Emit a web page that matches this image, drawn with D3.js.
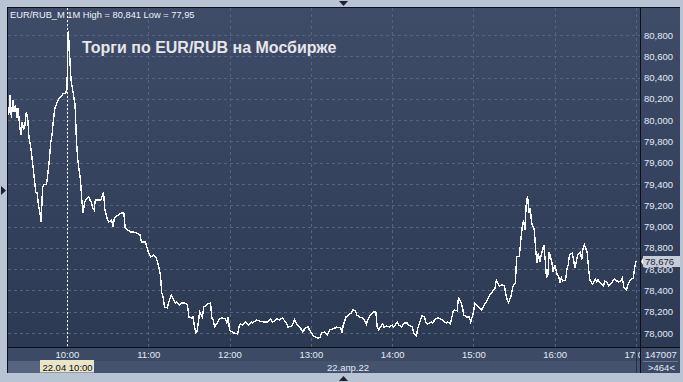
<!DOCTYPE html>
<html lang="ru">
<head>
<meta charset="UTF-8">
<title>EUR/RUB M1</title>
<script src="https://cdn.jsdelivr.net/npm/d3@7"></script>
<style>
  html, body { margin: 0; padding: 0; background: #b8c4d4; }
  svg { display: block; font-family: "Liberation Sans", Arial, sans-serif; }
</style>
</head>
<body>
<div id="chart"></div>
<script>
// minute bars, 22.04.2022 (close prices)
const times = [
  "09:17","09:18","09:19","09:20","09:21","09:22","09:23","09:24","09:25","09:26",
  "09:27","09:28","09:29","09:30","09:31","09:32","09:33","09:34","09:35","09:36",
  "09:37","09:38","09:39","09:40","09:41","09:42","09:43","09:45","09:46","09:47",
  "09:48","09:49","09:50","09:51","09:52","09:53","09:54","09:56","09:57","09:59",
  "10:00","10:01","10:02","10:03","10:04","10:06","10:07","10:08","10:10","10:11",
  "10:12","10:13","10:14","10:16","10:17","10:18","10:19","10:20","10:21","10:23",
  "10:25","10:27","10:28","10:30","10:31","10:33","10:34","10:35","10:38","10:40",
  "10:42","10:43","10:45","10:47","10:49","10:51","10:54","10:55","10:58","11:00",
  "11:01","11:02","11:04","11:06","11:08","11:09","11:10","11:11","11:12","11:14",
  "11:15","11:17","11:18","11:20","11:21","11:23","11:25","11:27","11:29","11:30",
  "11:32","11:33","11:35","11:36","11:37","11:38","11:40","11:41","11:43","11:44",
  "11:46","11:47","11:48","11:49","11:51","11:52","11:54","11:57","11:58","11:59",
  "12:00","12:02","12:03","12:06","12:07","12:08","12:10","12:12","12:14","12:16",
  "12:17","12:20","12:22","12:25","12:28","12:30","12:32","12:35","12:37","12:39",
  "12:42","12:43","12:46","12:48","12:50","12:52","12:54","12:56","12:58","12:59",
  "13:02","13:05","13:07","13:08","13:10","13:12","13:14","13:16","13:18","13:19",
  "13:22","13:23","13:24","13:26","13:27","13:30","13:31","13:33","13:34","13:36",
  "13:38","13:39","13:41","13:42","13:44","13:46","13:48","13:49","13:50","13:53",
  "13:54","13:56","13:58","14:00","14:01","14:04","14:05","14:07","14:09","14:11",
  "14:12","14:15","14:16","14:18","14:19","14:21","14:22","14:24","14:25","14:26",
  "14:29","14:30","14:32","14:34","14:36","14:38","14:40","14:41","14:43","14:45",
  "14:46","14:48","14:49","14:51","14:52","14:53","14:55","14:57","14:58","15:00",
  "15:01","15:03","15:04","15:06","15:08","15:09","15:10","15:12","15:14","15:16",
  "15:17","15:19","15:21","15:23","15:24","15:25","15:26","15:28","15:29","15:31",
  "15:32","15:34","15:35","15:36","15:37","15:38","15:39","15:40","15:41","15:42",
  "15:43","15:45","15:46","15:47","15:48","15:49","15:51","15:52","15:53","15:54",
  "15:55","15:56","15:58","15:59","16:00","16:02","16:03","16:04","16:05","16:06",
  "16:08","16:09","16:10","16:11","16:13","16:14","16:15","16:16","16:17","16:19",
  "16:20","16:21","16:22","16:24","16:25","16:26","16:28","16:29","16:30","16:31",
  "16:32","16:34","16:36","16:37","16:39","16:40","16:42","16:44","16:45","16:47",
  "16:49","16:50","16:51","16:53","16:54","16:56","16:58","16:59","17:00"
];
const prices = [
  80.049,80.237,80.021,80.190,80.077,80.143,80.021,80.115,79.955,79.861,
  79.983,79.908,79.955,80.077,80.021,79.833,79.767,79.673,79.560,79.438,
  79.325,79.316,79.203,79.137,79.043,79.363,79.391,79.400,79.504,79.626,
  79.786,79.861,80.002,80.105,80.143,80.171,80.199,80.227,80.246,80.256,
  80.284,80.841,80.613,80.378,80.303,80.143,79.814,79.626,79.438,79.250,
  79.128,79.222,79.250,79.278,79.250,79.231,79.175,79.156,79.250,79.250,
  79.250,79.325,79.156,79.062,79.043,79.062,78.996,79.081,79.109,79.128,
  79.128,78.987,78.968,78.949,78.949,78.940,78.921,78.855,78.855,78.761,
  78.733,78.714,78.733,78.705,78.611,78.545,78.376,78.338,78.244,78.235,
  78.282,78.357,78.329,78.282,78.291,78.263,78.282,78.282,78.263,78.150,
  78.141,78.150,78.000,78.009,78.103,78.197,78.150,78.244,78.263,78.273,
  78.282,78.141,78.122,78.056,78.094,78.122,78.141,78.132,78.094,78.150,
  78.028,78.009,78.000,77.991,78.056,78.085,78.075,78.103,78.075,78.103,
  78.094,78.122,78.113,78.103,78.103,78.132,78.103,78.132,78.122,78.141,
  78.094,78.056,78.066,78.122,78.075,78.056,78.009,78.047,78.056,78.028,
  77.972,77.950,77.962,78.000,78.009,77.981,78.028,78.038,78.047,78.056,
  78.047,78.009,78.075,78.150,78.160,78.188,78.216,78.207,78.169,78.150,
  78.141,78.132,78.085,78.122,78.169,78.197,78.197,78.056,78.028,78.085,
  78.056,78.066,78.056,78.075,78.056,78.103,78.075,78.056,78.094,78.094,
  78.075,78.056,78.000,77.972,78.047,78.122,78.160,78.150,78.094,78.085,
  78.103,78.094,78.132,78.141,78.132,78.113,78.094,78.103,78.085,78.197,
  78.216,78.207,78.329,78.282,78.235,78.169,78.150,78.150,78.103,78.188,
  78.282,78.254,78.244,78.216,78.263,78.282,78.301,78.357,78.385,78.423,
  78.498,78.442,78.451,78.442,78.357,78.310,78.282,78.357,78.432,78.470,
  78.714,78.724,78.874,78.987,79.062,78.968,79.203,79.288,79.128,79.175,
  79.034,78.968,78.780,78.658,78.752,78.667,78.780,78.827,78.686,78.517,
  78.545,78.761,78.658,78.573,78.639,78.545,78.526,78.479,78.517,78.489,
  78.498,78.592,78.639,78.733,78.752,78.686,78.611,78.667,78.733,78.761,
  78.686,78.799,78.827,78.761,78.611,78.498,78.461,78.479,78.508,78.479,
  78.498,78.470,78.442,78.489,78.470,78.442,78.470,78.508,78.498,78.479,
  78.489,78.517,78.432,78.404,78.451,78.498,78.517,78.611,78.676
];
const priceTicks = [78.0, 78.2, 78.4, 78.6, 78.8, 79.0, 79.2, 79.4, 79.6, 79.8, 80.0, 80.2, 80.4, 80.6, 80.8];
const hourTicks = ["10:00", "11:00", "12:00", "13:00", "14:00", "15:00", "16:00", "17:00"];
const viewFrom = "09:16:30", viewTo = "17:03:00";
const priceFrom = 77.868, priceTo = 81.054;
const day = "2022-04-22";
const symbol = "EUR/RUB_M 1M", high = 80.841, low = 77.95;
const cursorTime = "10:00";
const totalVolume = "147007", barCount = ">464<";

const W = 683, H = 382;
const pLeft = 8, pRight = 640, pTop = 8, pBottom = 347, panelRight = 680, panelBottom = 373;

const parse = d3.timeParse("%Y-%m-%d %H:%M:%S");
const at = t => parse(`${day} ${t.length === 5 ? t + ":00" : t}`);
const data = times.map((t, i) => ({ t: at(t), v: prices[i] }));

const ru = d3.formatLocale({ decimal: ",", thousands: " ", grouping: [3], currency: ["", ""] });
const fmt3 = ru.format(".3f"), fmt2 = ru.format(".2f");

const x = d3.scaleTime().domain([at(viewFrom), at(viewTo)]).range([pLeft, pRight]);
const y = d3.scaleLinear().domain([priceFrom, priceTo]).range([pBottom, pTop]);

const svg = d3.select("#chart").append("svg").attr("width", W).attr("height", H);

const defs = svg.append("defs");
const grad = defs.append("linearGradient").attr("id", "bg").attr("x1", 0).attr("y1", 0).attr("x2", 0).attr("y2", 1);
grad.append("stop").attr("offset", "0%").attr("stop-color", "#3f4c68");
grad.append("stop").attr("offset", "100%").attr("stop-color", "#2b3852");
defs.append("clipPath").attr("id", "plot").append("rect")
  .attr("x", pLeft).attr("y", pTop).attr("width", pRight - pLeft).attr("height", pBottom - pTop);
defs.append("clipPath").attr("id", "timeaxis").append("rect")
  .attr("x", pLeft).attr("y", pBottom).attr("width", pRight - pLeft).attr("height", panelBottom - pBottom);

// panels
svg.append("rect").attr("x", pLeft).attr("y", pTop).attr("width", panelRight - pLeft).attr("height", panelBottom - pTop).attr("fill", "url(#bg)");
svg.append("rect").attr("x", pLeft).attr("y", pBottom).attr("width", panelRight - pLeft).attr("height", panelBottom - pBottom).attr("fill", "#3d4a65");
svg.append("rect").attr("x", pLeft).attr("y", 361).attr("width", pRight - pLeft).attr("height", panelBottom - 361).attr("fill", "#44526d");
svg.append("rect").attr("x", pLeft).attr("y", 361).attr("width", 33).attr("height", panelBottom - 361).attr("fill", "#56647f");

// grid
const grid = svg.append("g").attr("stroke", "#56637e").attr("stroke-dasharray", "3,3").attr("shape-rendering", "crispEdges");
grid.selectAll(".h").data(priceTicks).join("line")
  .attr("x1", pLeft).attr("x2", pRight).attr("y1", d => Math.round(y(d)) + 0.5).attr("y2", d => Math.round(y(d)) + 0.5);
grid.selectAll(".v").data(hourTicks).join("line")
  .attr("y1", pTop).attr("y2", pBottom).attr("x1", d => Math.round(x(at(d))) + 0.5).attr("x2", d => Math.round(x(at(d))) + 0.5);

// cursor line
const cx = Math.round(x(at(cursorTime))) + 0.5;
svg.append("line").attr("x1", cx).attr("x2", cx).attr("y1", pTop).attr("y2", pBottom)
  .attr("stroke", "#ffffff").attr("stroke-dasharray", "2,2").attr("shape-rendering", "crispEdges");

// price line
svg.append("path").datum(data)
  .attr("clip-path", "url(#plot)")
  .attr("fill", "none").attr("stroke", "#ffffff").attr("stroke-width", 1.4)
  .attr("shape-rendering", "crispEdges")
  .attr("d", d3.line().x(d => x(d.t)).y(d => y(d.v)));

// frame lines
const frame = svg.append("g").attr("stroke", "#0c0f16").attr("shape-rendering", "crispEdges");
frame.append("line").attr("x1", 7.5).attr("x2", 7.5).attr("y1", 7).attr("y2", panelBottom);
frame.append("line").attr("x1", 7).attr("x2", panelRight).attr("y1", 7.5).attr("y2", 7.5);
frame.append("line").attr("x1", pRight + 0.5).attr("x2", pRight + 0.5).attr("y1", pTop).attr("y2", panelBottom);
frame.append("line").attr("x1", pLeft).attr("x2", panelRight).attr("y1", pBottom + 0.5).attr("y2", pBottom + 0.5);

// price axis
const yAxis = svg.append("g").attr("transform", `translate(${pRight},0)`)
  .call(d3.axisRight(y).tickValues(priceTicks).tickSize(0).tickPadding(4).tickFormat(fmt3));
yAxis.select(".domain").remove();
yAxis.selectAll("text").attr("fill", "#e2eaf7").style("font-size", "9.5px").style("font-family", "Liberation Sans, Arial, sans-serif");

// time axis
const xAxis = svg.append("g").attr("clip-path", "url(#timeaxis)")
  .append("g").attr("transform", `translate(0,${pBottom})`)
  .call(d3.axisBottom(x).tickValues(hourTicks.map(at)).tickSize(0).tickPadding(4).tickFormat(d3.timeFormat("%H:%M")));
xAxis.select(".domain").remove();
xAxis.selectAll("text").attr("fill", "#e2eaf7").style("font-size", "9.5px").style("font-family", "Liberation Sans, Arial, sans-serif");
const lastHour = Math.round(x(at(hourTicks[hourTicks.length - 1]))) + 0.5;
svg.append("line").attr("x1", lastHour).attr("x2", lastHour).attr("y1", 350).attr("y2", panelBottom)
  .attr("stroke", "#27324a").attr("shape-rendering", "crispEdges");

// cursor date box
const dateLabel = d3.timeFormat("%d.%m %H:%M")(at(cursorTime));
const dateText = svg.append("text").attr("x", cx).attr("y", 370.5).attr("text-anchor", "middle")
  .attr("fill", "#101010").style("font-size", "9.5px").text(dateLabel);
const bb = dateText.node().getBBox();
svg.insert("rect", () => dateText.node()).attr("x", Math.round(bb.x) - 2).attr("y", 360).attr("width", Math.round(bb.width) + 4).attr("height", 12.5).attr("fill", "#e9e5c8");

svg.append("text").attr("x", 348).attr("y", 370.5).attr("text-anchor", "middle")
  .attr("fill", "#e2eaf7").style("font-size", "9.5px").text("22.апр.22");

// last price label
const last = data[data.length - 1];
const ly = Math.round(y(last.v));
svg.append("rect").attr("x", 643).attr("y", ly - 5).attr("width", panelRight - 643).attr("height", 11).attr("fill", "#c8ccd4");
svg.append("path").attr("d", `M${pRight + 1},${ly + 0.5}L${643},${ly - 3}L${643},${ly + 4}Z`).attr("fill", "#ffffff");
svg.append("text").attr("x", 645).attr("y", ly + 4).attr("fill", "#1a2444").style("font-size", "9.5px").text(fmt3(last.v));

// volume / bars box
svg.append("text").attr("x", 645).attr("y", 358).attr("fill", "#e2eaf7").style("font-size", "9.5px").text(totalVolume);
svg.append("line").attr("x1", 643).attr("x2", 678).attr("y1", 361.5).attr("y2", 361.5).attr("stroke", "#6a7790").attr("shape-rendering", "crispEdges");
svg.append("text").attr("x", 648).attr("y", 371).attr("fill", "#e2eaf7").style("font-size", "9.5px").text(barCount);

// header and title
svg.append("text").attr("x", 10).attr("y", 18).attr("fill", "#eef2fa").style("font-size", "9.3px")
  .text(`${symbol} High = ${fmt3(high)} Low = ${fmt2(low)}`);
svg.append("text").attr("x", 82).attr("y", 53).attr("fill", "#e6e6ea")
  .style("font-size", "16px").style("font-weight", "bold")
  .text("Торги по EUR/RUB на Мосбирже");

// scroll markers on the outer frame
const mark = svg.append("g").attr("fill", "#1b2130");
mark.append("path").attr("d", "M339,1L348,1L343.5,6Z");
mark.append("path").attr("d", "M339,381L348,381L343.5,376Z");
mark.append("path").attr("d", "M1,186L1,195L6,190.5Z");
</script>
</body>
</html>
